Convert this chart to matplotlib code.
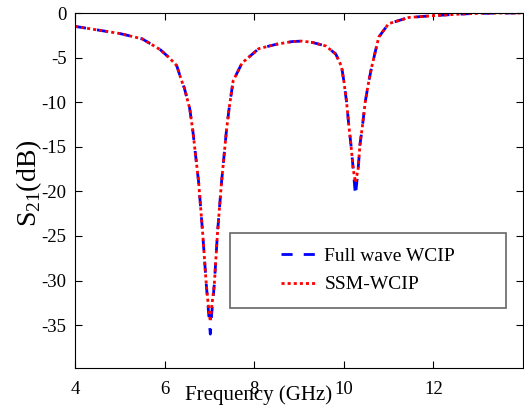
import numpy as np
import matplotlib.pyplot as plt
from matplotlib.patches import Rectangle

plt.rcParams['font.family'] = ['Liberation Serif', 'DejaVu Serif']
plt.rcParams['mathtext.fontset'] = 'custom'
plt.rcParams['mathtext.rm'] = 'Liberation Serif'

# frequency points (GHz)
freq = [4.0, 4.5, 5.0, 5.5, 5.9, 6.1, 6.27, 6.38, 6.44, 6.56, 6.63, 6.76, 6.85,
        6.93, 6.98, 7.02, 7.05, 7.11, 7.18, 7.27, 7.38, 7.44, 7.53, 7.73, 8.1,
        8.5, 8.85, 9.07, 9.3, 9.6, 9.82, 9.95, 10.0, 10.06, 10.11, 10.16, 10.21,
        10.26, 10.32, 10.36, 10.42, 10.48, 10.56, 10.62, 10.78, 11.0, 11.45,
        12.0, 12.5, 12.9, 13.5, 14.0]

full_wave = [-1.5, -1.9, -2.3, -2.9, -4.1, -5.0, -5.9, -7.6, -8.4, -10.7, -13.2,
             -19.0, -24.7, -30.4, -33.5, -36.0, -33.8, -30.4, -24.7, -19.0, -13.2,
             -10.7, -7.6, -5.6, -4.0, -3.5, -3.2, -3.15, -3.3, -3.7, -4.6, -6.0,
             -7.6, -9.9, -12.5, -14.8, -17.5, -20.5, -17.5, -14.8, -12.5, -9.9,
             -7.6, -6.1, -2.7, -1.2, -0.5, -0.3, -0.15, -0.05, 0.0, 0.0]

ssm = [-1.5, -1.9, -2.3, -2.9, -4.1, -5.0, -5.9, -7.6, -8.4, -10.7, -13.2,
       -19.0, -24.7, -30.4, -33.0, -34.6, -33.0, -30.4, -24.7, -19.0, -13.2,
       -10.7, -7.6, -5.6, -4.0, -3.5, -3.2, -3.15, -3.3, -3.7, -4.6, -6.0,
       -7.6, -9.9, -12.5, -14.8, -17.5, -19.0, -17.5, -14.8, -12.5, -9.9,
       -7.6, -6.1, -2.7, -1.2, -0.5, -0.3, -0.15, -0.05, 0.0, 0.0]

fig = plt.figure(figsize=(5.24, 4.18), dpi=100)
ax = fig.add_axes([75 / 524, 50 / 418, 448 / 524, 355 / 418])

ax.plot(freq, full_wave, color='blue', linestyle=(0, (4, 4)), linewidth=2.0,
        label='Full wave WCIP')
ax.plot(freq, ssm, color='red', linestyle=(0, (1.1, 1.1)), linewidth=2.0,
        label='SSM-WCIP')

ax.set_xlim(4, 14)
ax.set_ylim(-39.8, 0)
ax.set_xticks([4, 6, 8, 10, 12])
ax.set_yticks([0, -5, -10, -15, -20, -25, -30, -35])
ax.set_yticklabels(['0', '-5', '-10', '-15', '-20', '-25', '-30', '-35'])
ax.tick_params(direction='in', top=True, right=True, labelsize=13.5, length=5)
ax.tick_params(axis='x', pad=9)
ax.tick_params(axis='y', pad=6)
ax.set_xlabel('Frequency (GHz)', fontsize=15)
ax.xaxis.set_label_coords(0.41, -0.05)
ax.set_ylabel('S$_{21}$(dB)', fontsize=20)
ax.yaxis.set_label_coords(-0.07, 0.52)

# legend box
ax.add_patch(Rectangle((0.346, 0.169), 0.616, 0.211, transform=ax.transAxes,
                       facecolor='white', edgecolor='#666666', linewidth=1.2,
                       zorder=4))
ax.legend(loc='center', bbox_to_anchor=(0.654, 0.275), fontsize=14,
          frameon=False, handlelength=1.75, handletextpad=0.5,
          labelspacing=0.55)

fig.savefig('out.png', dpi=100)
